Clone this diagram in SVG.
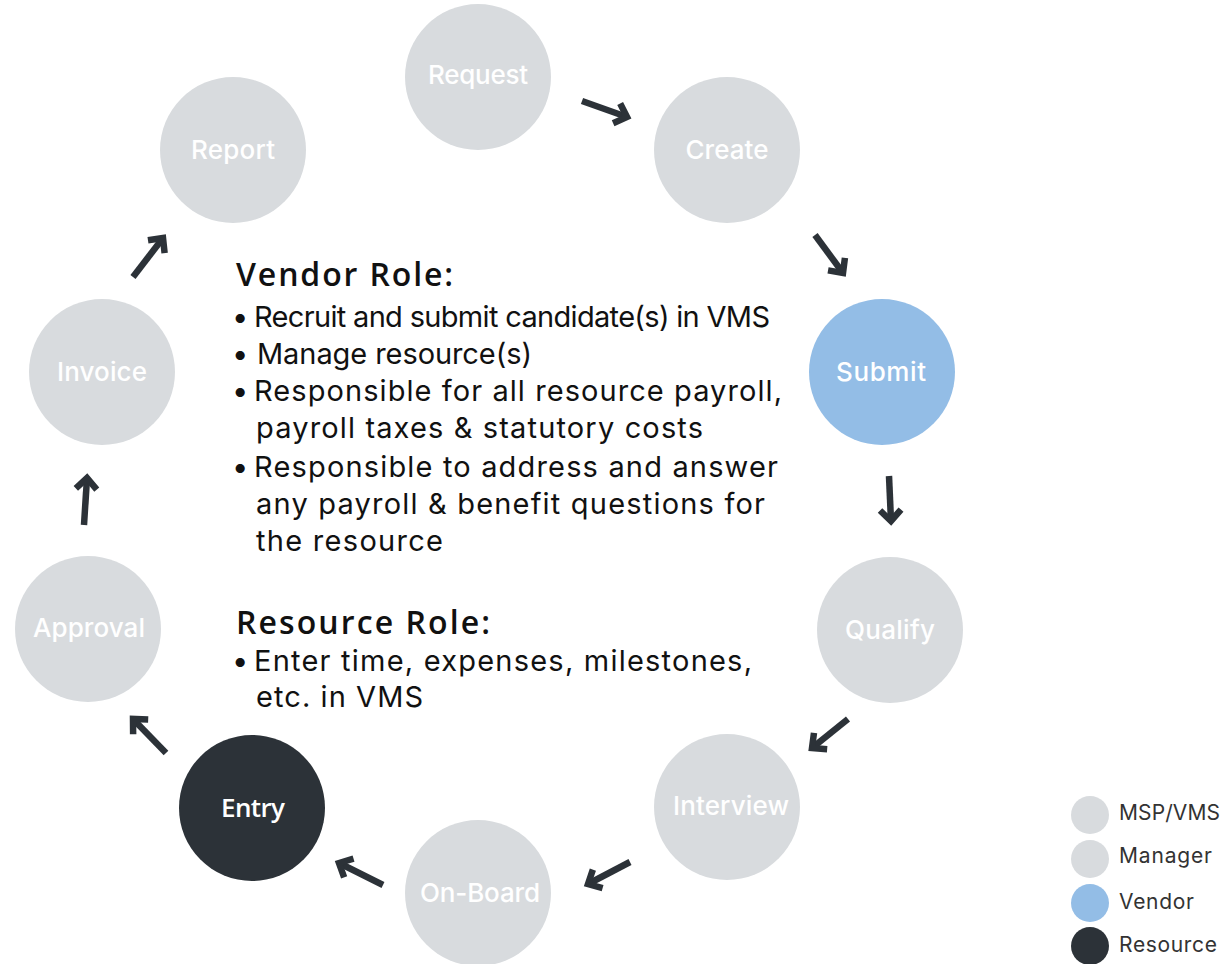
<svg xmlns="http://www.w3.org/2000/svg" width="1221" height="964" viewBox="0 0 1221 964">
<style>
.g{fill:#d8dbde}
.b{fill:#93bde6}
.d{fill:#2c3238}
.lbl{font-family:Inter,"Liberation Sans",sans-serif;font-size:26px;font-weight:500;fill:#ffffff;text-anchor:middle}
.ent{font-family:"Open Sans","Liberation Sans",sans-serif;font-size:26px;font-weight:600;fill:#ffffff;text-anchor:middle}
.arr{stroke:#2c3238;stroke-width:6.5;fill:none;marker-end:url(#ah)}
.h{font-family:"Open Sans","Liberation Sans",sans-serif;font-size:32px;font-weight:600;fill:#111111}
.t{font-family:Inter,"Liberation Sans",sans-serif;font-size:29px;fill:#111111}
.lg{font-family:Inter,"Liberation Sans",sans-serif;font-size:21px;fill:#333333}
</style>
<defs>
<marker id="ah" markerUnits="userSpaceOnUse" markerWidth="40" markerHeight="40" viewBox="-20 -20 40 40" refX="0" refY="0" orient="auto" overflow="visible">
<path d="M-11,-10.5 L0,0 L-11,10.5" fill="none" stroke="#2c3238" stroke-width="6.5" stroke-linejoin="miter"/>
</marker>
</defs>
<rect width="1221" height="964" fill="#ffffff"/>

<g id="request"><circle class="g" cx="478" cy="77" r="73"/><text class="lbl" x="478" y="84" textLength="100">Request</text></g>
<g id="create"><circle class="g" cx="727" cy="150" r="73"/><text class="lbl" x="727" y="159" textLength="83">Create</text></g>
<g id="submit"><circle class="b" cx="882" cy="372" r="73"/><text class="lbl" x="881" y="381" textLength="90">Submit</text></g>
<g id="qualify"><circle class="g" cx="890" cy="630" r="73"/><text class="lbl" x="890" y="639" textLength="90">Qualify</text></g>
<g id="interview"><circle class="g" cx="727" cy="807" r="73"/><text class="lbl" x="731" y="815" textLength="116">Interview</text></g>
<g id="onboard"><circle class="g" cx="478" cy="893" r="73"/><text class="lbl" x="480" y="902" textLength="120">On-Board</text></g>
<g id="entry"><circle class="d" cx="252" cy="808" r="73"/><text class="ent" x="253" y="817" textLength="64">Entry</text></g>
<g id="approval"><circle class="g" cx="88" cy="629" r="73"/><text class="lbl" x="89" y="637" textLength="112">Approval</text></g>
<g id="invoice"><circle class="g" cx="102" cy="372" r="73"/><text class="lbl" x="102" y="381" textLength="90">Invoice</text></g>
<g id="report"><circle class="g" cx="233" cy="150" r="73"/><text class="lbl" x="233" y="159" textLength="84">Report</text></g>

<g id="connectors">
<line class="arr" x1="582" y1="101" x2="627" y2="117"/>
<line class="arr" x1="815" y1="235" x2="843" y2="273"/>
<line class="arr" x1="889" y1="476" x2="891" y2="521"/>
<line class="arr" x1="848" y1="719" x2="812" y2="748"/>
<line class="arr" x1="630" y1="862" x2="588" y2="884"/>
<line class="arr" x1="383" y1="885" x2="339" y2="863"/>
<line class="arr" x1="166" y1="753" x2="133" y2="719"/>
<line class="arr" x1="84" y1="525" x2="87" y2="478"/>
<line class="arr" x1="133" y1="277" x2="163" y2="238"/>
</g>

<g id="roles">
<text class="h" x="236" y="286" textLength="217">Vendor Role:</text>
<text class="t" x="232" y="327">•</text>
<text class="t" x="254" y="327" textLength="516">Recruit and submit candidate(s) in VMS</text>
<text class="t" x="232" y="364">•</text>
<text class="t" x="257" y="364" textLength="275">Manage resource(s)</text>
<text class="t" x="232" y="401">•</text>
<text class="t" x="254" y="401" textLength="528">Responsible for all resource payroll,</text>
<text class="t" x="256" y="438" textLength="447">payroll taxes &amp; statutory costs</text>
<text class="t" x="232" y="477">•</text>
<text class="t" x="254" y="477" textLength="524">Responsible to address and answer</text>
<text class="t" x="256" y="514" textLength="509">any payroll &amp; benefit questions for</text>
<text class="t" x="256" y="551" textLength="187">the resource</text>
<text class="h" x="236" y="634" textLength="254">Resource Role:</text>
<text class="t" x="232" y="671">•</text>
<text class="t" x="254" y="671" textLength="498">Enter time, expenses, milestones,</text>
<text class="t" x="256" y="707" textLength="167">etc. in VMS</text>
</g>

<g id="legend">
<circle class="g" cx="1090" cy="815" r="19"/><text class="lg" x="1119" y="820" textLength="101">MSP/VMS</text>
<circle class="g" cx="1090" cy="859" r="19"/><text class="lg" x="1119" y="863" textLength="93">Manager</text>
<circle class="b" cx="1090" cy="903" r="19"/><text class="lg" x="1119" y="909" textLength="75">Vendor</text>
<circle class="d" cx="1090" cy="946" r="19"/><text class="lg" x="1119" y="952" textLength="98">Resource</text>
</g>
</svg>
